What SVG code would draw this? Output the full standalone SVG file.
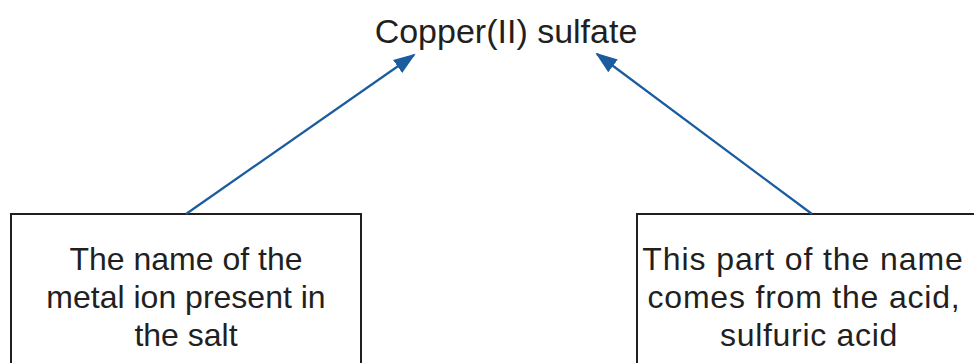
<svg xmlns="http://www.w3.org/2000/svg" width="974" height="363" viewBox="0 0 974 363">
<style>
  .t { font-family: "Liberation Sans", Arial, sans-serif; fill: #231f20; text-anchor: middle; }
  .box { fill: #ffffff; stroke: #231f20; stroke-width: 2; }
  .conn { stroke: #1a5c9e; stroke-width: 2.2; fill: none; marker-end: url(#ah); }
</style>
<defs>
  <marker id="ah" markerUnits="userSpaceOnUse" markerWidth="24" markerHeight="18" refX="20" refY="8" orient="auto" viewBox="0 0 24 16">
    <path d="M0,0 L22,8 L0,16 Z" fill="#1a5c9e"/>
  </marker>
</defs>
<rect width="974" height="363" fill="#ffffff"/>
<g id="title">
  <text class="t" x="506" y="43" font-size="34">Copper(II) sulfate</text>
</g>
<g id="left-box">
  <rect class="box" x="11" y="214" width="350" height="160"/>
  <text class="t" x="186" y="270" font-size="32">The name of the</text>
  <text class="t" x="186" y="308" font-size="32">metal ion present in</text>
  <text class="t" x="186" y="346" font-size="32">the salt</text>
</g>
<g id="right-box">
  <rect class="box" x="637" y="214" width="350" height="160"/>
  <text class="t" x="803" y="270" font-size="32" letter-spacing="0.9">This part of the name</text>
  <text class="t" x="804" y="308" font-size="32" letter-spacing="0.8">comes from the acid,</text>
  <text class="t" x="809" y="346" font-size="32" letter-spacing="0.7">sulfuric acid</text>
</g>
<g id="connectors">
  <line class="conn" x1="186" y1="214" x2="414" y2="55"/>
  <line class="conn" x1="812" y1="214" x2="597" y2="54"/>
</g>
</svg>
